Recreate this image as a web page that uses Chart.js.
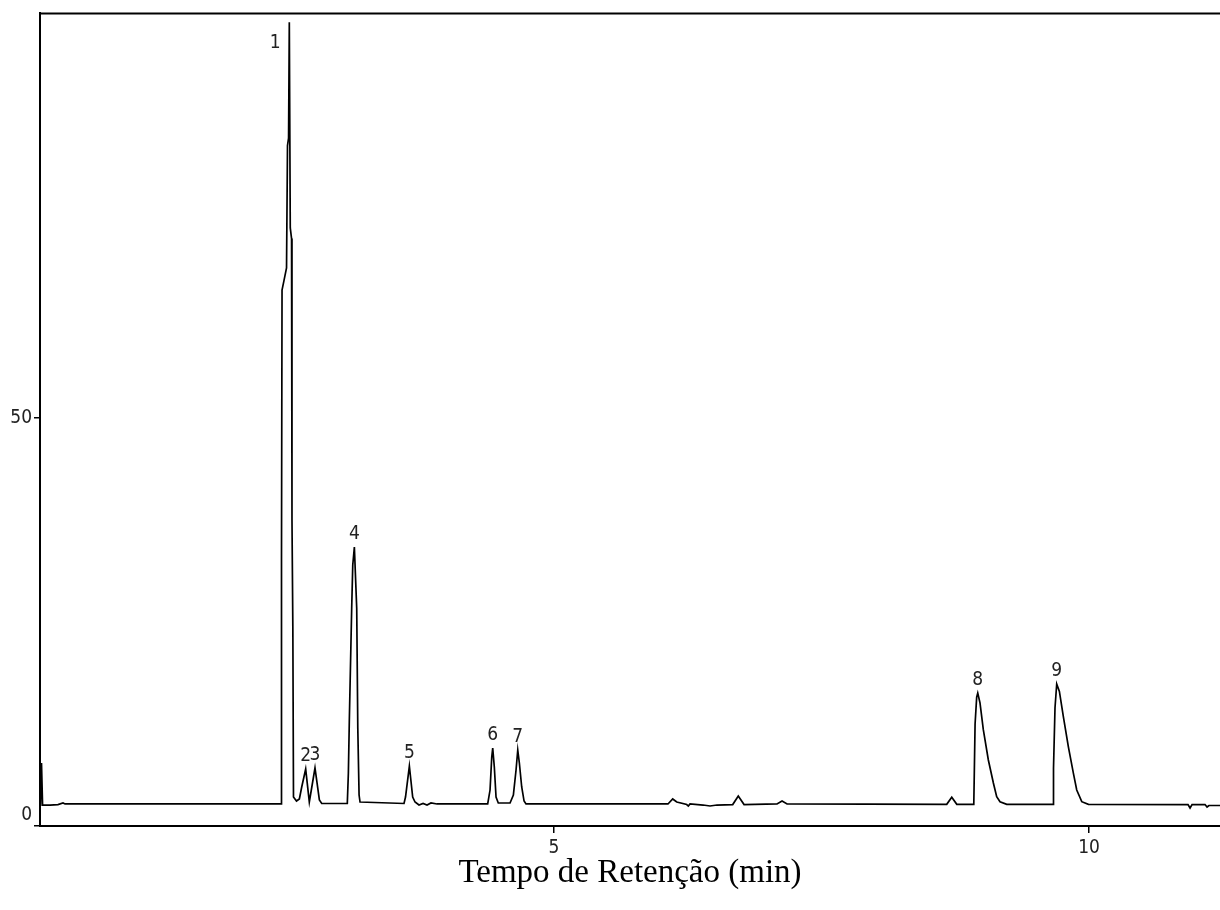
<!DOCTYPE html>
<html>
<head>
<meta charset="utf-8">
<script src="https://cdn.jsdelivr.net/npm/chart.js@4.4.0/dist/chart.umd.min.js"></script>
<style>
  html, body { margin: 0; padding: 0; background: #fff; }
  #wrap { width: 1220px; height: 910px; }
</style>
</head>
<body>
<div id="wrap"><canvas id="myChart" width="1220" height="910"></canvas></div>
<script>
// retention time (min) and detector signal
const retentionTime = [
  0.201, 0.210, 0.220, 0.290, 0.364, 0.411, 0.430, 2.449, 2.453, 2.458,
  2.477, 2.500, 2.509, 2.519, 2.526, 2.535, 2.547, 2.551, 2.559, 2.565,
  2.593, 2.620, 2.642, 2.679, 2.713, 2.766, 2.807, 2.829, 3.068, 3.078,
  3.087, 3.109, 3.119, 3.134, 3.156, 3.166, 3.178, 3.187, 3.598, 3.612,
  3.648, 3.679, 3.701, 3.738, 3.776, 3.813, 3.850, 3.907, 4.380, 4.402,
  4.418, 4.427, 4.442, 4.458, 4.479, 4.589, 4.620, 4.645, 4.661, 4.676,
  4.698, 4.720, 4.738, 6.065, 6.109, 6.147, 6.240, 6.255, 6.271, 6.393,
  6.458, 6.523, 6.670, 6.722, 6.776, 7.084, 7.131, 7.178, 8.670, 8.717,
  8.764, 8.923, 8.927, 8.935, 8.950, 8.960, 8.981, 9.012, 9.059, 9.106,
  9.137, 9.168, 9.231, 9.664, 9.668, 9.682, 9.698, 9.723, 9.760, 9.807,
  9.854, 9.885, 9.932, 9.994, 10.925, 10.944, 10.963, 11.084, 11.103, 11.121, 11.224
];
const signal = [
  2.45, 7.72, 2.57, 2.57, 2.63, 2.82, 2.70, 2.70, 32.6, 65.7,
  66.9, 68.4, 83.4, 84.3, 98.5, 73.3, 72.0, 37.5, 24.4, 3.55,
  3.06, 3.31, 4.78, 6.98, 2.94, 7.11, 3.19, 2.76, 2.76, 6.49,
  12.99, 26.7, 32.0, 34.2, 26.7, 12.0, 3.80, 2.94, 2.76, 3.55,
  7.35, 3.55, 2.94, 2.57, 2.76, 2.57, 2.82, 2.70, 2.70, 4.41,
  8.45, 9.56, 7.23, 3.55, 2.82, 2.82, 3.80, 6.86, 9.31, 7.72,
  4.78, 3.06, 2.70, 2.70, 3.31, 2.94, 2.63, 2.45, 2.70, 2.57,
  2.45, 2.57, 2.63, 3.68, 2.63, 2.70, 3.06, 2.70, 2.66, 3.52,
  2.66, 2.66, 5.88, 12.5, 15.8, 16.3, 15.1, 11.8, 8.09, 5.27,
  3.59, 2.98, 2.66, 2.66, 7.11, 14.5, 17.4, 16.5, 13.4, 9.71,
  6.46, 4.41, 2.98, 2.66, 2.63, 2.20, 2.63, 2.63, 2.33, 2.51, 2.51
];

// numbered peaks
const peakLabels = ["1", "2", "3", "4", "5", "6", "7", "8", "9"];
const peakTimes = [2.526, 2.679, 2.766, 3.134, 3.648, 4.427, 4.661, 8.960, 9.698];
const peakHeights = [98.5, 6.98, 7.11, 34.2, 7.35, 9.56, 9.31, 16.3, 17.4];

const xTicks = [5, 10];
const yTicks = [0, 50];
const xMin = 0.196;
const xMax = 11.224;
const yMax = 99.6;

const tickFont = { family: "'Liberation Sans Narrow', 'DejaVu Sans Condensed', sans-serif", size: 19 };

const points = retentionTime.map((t, i) => ({ x: t, y: signal[i] }));

const peakLabelPlugin = {
  id: "peakLabels",
  afterDatasetsDraw(chart) {
    const ctx = chart.ctx;
    const xs = chart.scales.x;
    const ys = chart.scales.y;
    ctx.save();
    ctx.font = "19px " + tickFont.family;
    ctx.fillStyle = "#222";
    ctx.textAlign = "center";
    ctx.textBaseline = "middle";
    peakLabels.forEach((label, i) => {
      let px = xs.getPixelForValue(peakTimes[i]);
      let py = ys.getPixelForValue(peakHeights[i]) - 13;
      if (i === 0) {
        // the tallest label sits beside the peak, not above it
        px -= 14;
        py += 34;
      }
      ctx.fillText(label, px, py);
    });
    ctx.restore();
  },
};

const framePlugin = {
  id: "frame",
  afterDraw(chart) {
    const { ctx, chartArea } = chart;
    ctx.save();
    ctx.strokeStyle = "#000";
    ctx.lineWidth = 2;
    ctx.beginPath();
    ctx.moveTo(chartArea.left - 1, chartArea.top);
    ctx.lineTo(chartArea.right, chartArea.top);
    ctx.stroke();
    ctx.restore();
  },
};

const ctx = document.getElementById("myChart").getContext("2d");
const myChart = new Chart(ctx, {
  type: "line",
  data: {
    datasets: [
      {
        data: points,
        borderColor: "#000",
        borderWidth: 1.7,
        pointRadius: 0,
        tension: 0,
        fill: false,
      },
    ],
  },
  options: {
    responsive: false,
    animation: false,
    layout: { padding: { top: 13, right: 0, left: 0, bottom: 0 } },
    plugins: {
      legend: { display: false },
      tooltip: { enabled: false },
    },
    scales: {
      x: {
        type: "linear",
        min: xMin,
        max: xMax,
        afterBuildTicks: (scale) => {
          scale.ticks = xTicks.map((v) => ({ value: v }));
        },
        afterFit: (scale) => {
          scale.height = 84;
        },
        ticks: {
          color: "#222",
          font: tickFont,
          padding: 4,
          maxRotation: 0,
        },
        grid: {
          drawOnChartArea: false,
          drawTicks: true,
          tickLength: 7,
          color: "#000",
          lineWidth: 1.5,
        },
        border: { display: true, color: "#000", width: 2 },
        title: {
          display: true,
          text: "Tempo de Retenção (min)",
          color: "#000",
          font: { family: "'Liberation Serif', 'Times New Roman', serif", size: 33 },
          padding: { top: 0, bottom: 17 },
        },
      },
      y: {
        type: "linear",
        min: 0,
        max: yMax,
        afterBuildTicks: (scale) => {
          scale.ticks = yTicks.map((v) => ({ value: v }));
        },
        afterFit: (scale) => {
          scale.width = 40;
        },
        ticks: {
          color: "#222",
          font: tickFont,
          padding: 2,
          // the zero label sits a little above its tick
          callback: (value) => (value === 0 ? ["0", ""] : String(value)),
        },
        grid: {
          drawOnChartArea: false,
          drawTicks: true,
          tickLength: 6,
          color: "#000",
          lineWidth: 1.5,
        },
        border: { display: true, color: "#000", width: 2 },
      },
    },
  },
  plugins: [peakLabelPlugin, framePlugin],
});
</script>
</body>
</html>
